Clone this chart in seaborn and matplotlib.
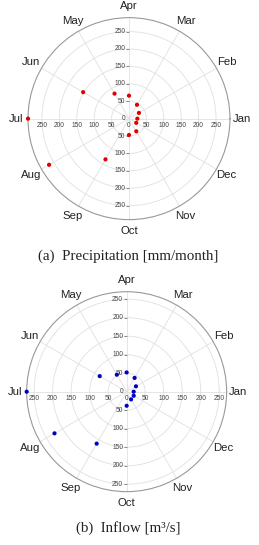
import numpy as np
import matplotlib
matplotlib.use("Agg")
import matplotlib.pyplot as plt
import matplotlib.transforms as mtransforms
import seaborn as sns

# Dados mensais (ordem Jan..Dec)
months = ["Jan", "Feb", "Mar", "Apr", "May", "Jun",
          "Jul", "Aug", "Sep", "Oct", "Nov", "Dec"]
precip = [24, 33, 46, 66, 83, 152, 290, 265, 135, 47, 42, 24]
inflow = [19, 29, 43, 52, 53, 84, 270, 225, 162, 38, 24, 22]
rticks = [50, 100, 150, 200, 250]
captions = ["(a)  Precipitation [mm/month]", "(b)  Inflow [m³/s]"]

sns.set_style("white")
plt.rcParams["font.family"] = ["Liberation Sans", "DejaVu Sans"]

fig = plt.figure(figsize=(2.59, 5.45), dpi=100)
theta = np.deg2rad(np.arange(12) * 30)

panels = [
    dict(rect=[0.108, 0.597, 0.780, 0.3706], vals=precip, rmax=290,
         color="#e00000", cap_y=0.529),
    dict(rect=[0.103, 0.0978, 0.772, 0.367], vals=inflow, rmax=270,
         color="#0000c0", cap_y=0.031),
]

for p, cap in zip(panels, captions):
    ax = fig.add_axes(p["rect"], projection="polar")
    sns.scatterplot(x=theta, y=p["vals"], ax=ax, color=p["color"],
                    s=9, edgecolor="none", zorder=5, clip_on=False)
    ax.set_xlabel("")
    ax.set_ylabel("")
    ax.set_ylim(0, p["rmax"])
    ax.set_xticks(theta)
    ax.set_xticklabels(months, fontsize=8.2, color="#222222")
    ax.tick_params(axis="x", pad=-2)
    ax.set_yticks(rticks)
    ax.set_yticklabels([])
    ax.grid(True, color="#e0e0e0", lw=0.6)
    ax.spines["polar"].set_color("#999999")
    ax.spines["polar"].set_linewidth(0.8)

    # eixos cruzados com rótulos radiais
    left = mtransforms.offset_copy(ax.transData, fig=fig, x=-2.5, y=0, units="points")
    below = mtransforms.offset_copy(ax.transData, fig=fig, x=0, y=-2.5, units="points")
    lab = dict(fontsize=4.8, color="#444444")
    for r in [0] + rticks:
        ax.text(np.pi / 2, r, str(r), transform=left, ha="right", va="center", **lab)
        ax.text(0, r, str(r), transform=below, ha="center", va="top", **lab)
    for r in rticks:
        ax.text(3 * np.pi / 2, r, str(r), transform=left, ha="right", va="center", **lab)
        ax.text(np.pi, r, str(r), transform=below, ha="center", va="top", **lab)
    for a in [np.pi / 2, 3 * np.pi / 2]:
        ax.plot([a] * len(rticks), rticks, ls="none", marker=0, ms=2.5,
                color="#888888", mew=0.6)

    fig.text(0.495, p["cap_y"], cap, ha="center", va="center", fontsize=10.8,
             family=["Liberation Serif", "DejaVu Serif"], color="#222222")

fig.savefig("out.png", dpi=100)
